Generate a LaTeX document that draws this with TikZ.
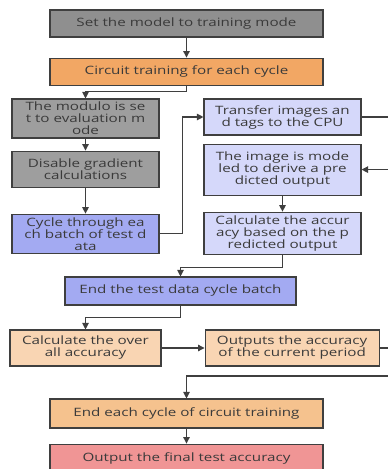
\documentclass[tikz,border=0pt]{standalone}
\usepackage{fontspec}
\setmainfont{Open Sans}[FakeStretch=1.32]
\usepackage{tikz}
\usetikzlibrary{arrows.meta,positioning}
\definecolor{linegray}{HTML}{3F3F3F}
\definecolor{textgray}{HTML}{3A3A3A}
\definecolor{darkgrayfill}{HTML}{8F8F8F}
\definecolor{grayfill}{HTML}{9E9E9E}
\definecolor{orangefill}{HTML}{F2A764}
\definecolor{lightorange}{HTML}{F5C28E}
\definecolor{peachfill}{HTML}{F9D5B3}
\definecolor{bluefill}{HTML}{A3AAF2}
\definecolor{lightblue}{HTML}{D5D8FA}
\definecolor{pinkfill}{HTML}{F09595}

\begin{document}
\begin{tikzpicture}[x=1pt, y=1pt,
		box/.style={draw=linegray, line width=1.1pt, inner sep=0pt, align=center, text=textgray,
			font=\fontsize{11.5}{12}\selectfont},
		wide/.style={box, minimum width=273pt, minimum height=27pt},
		narrow/.style={box, minimum width=147pt},
		side/.style={box, minimum width=157pt},
		link/.style={draw=linegray, line width=1.1pt, -{Triangle[length=6.5pt, width=6.5pt]}},
		every edge/.style={link}]
		\clip (0,0) rectangle (388,-469);
		\useasboundingbox (0,0) rectangle (388,-469);
		% Nodes
		\node[wide, fill=darkgrayfill] (trainmode) at (186.5,-23.5) {Set the model to training mode};
		\node[wide, fill=orangefill] (cycle) [below=20pt of trainmode] {Circuit training for each cycle};
		\node[narrow, fill=grayfill, minimum height=39pt] (evalmode) at (85.5,-118.5)
			{The modulo is se\\t to evaluation m\\ode};
		\node[narrow, fill=grayfill, minimum height=36pt] (nograd) [below=12pt of evalmode]
			{Disable gradient\\calculations};
		\node[narrow, fill=bluefill, minimum height=39pt] (batchloop) [below=26pt of nograd]
			{Cycle through ea\\ch batch of test d\\ata};
		\node[side, fill=lightblue, minimum height=36pt] (tocpu) at (282.5,-117)
			{Transfer images an\\d tags to the CPU};
		\node[side, fill=lightblue, minimum height=51pt] (predict) [below=8pt of tocpu]
			{The image is mode\\led to derive a pre\\dicted output};
		\node[side, fill=lightblue, minimum height=42pt] (batchacc) [below=16pt of predict]
			{Calculate the accur\\acy based on the p\\redicted output};
		\node[box, fill=bluefill, minimum width=231pt, minimum height=28pt] (endbatch) at (180.5,-291)
			{End the test data cycle batch};
		\node[box, fill=peachfill, minimum width=151pt, minimum height=36pt] (overall) at (85.5,-348)
			{Calculate the over\\all accuracy};
		\node[box, fill=peachfill, minimum width=174pt, minimum height=36pt] (epochacc) [right=43pt of overall]
			{Outputs the accuracy\\of the current period};
		\node[wide, fill=lightorange, minimum height=29pt] (endcycle) at (186.5,-413.5)
			{End each cycle of circuit training};
		\node[wide, fill=pinkfill, minimum height=29pt] (final) [below=15pt of endcycle]
			{Output the final test accuracy};
		% Edges
		\draw (trainmode) edge (cycle);
		\draw[link] (cycle.south) -- ++(0,-6) -| (evalmode.north);
		\draw (evalmode) edge (nograd);
		\draw (nograd) edge (batchloop);
		\draw[link] (batchloop.east) -- ++(23,0) |- (tocpu.west);
		\draw[link] (tocpu.east) -- ++(40,0) |- (predict.east);
		\draw (predict) edge (batchacc);
		\draw[link] (batchacc.south) -- ++(0,-13) -| (endbatch.north);
		\draw[link] (endbatch.south) -- ++(0,-12) -| (overall.north);
		\draw (overall) edge (epochacc);
		\draw[link] (epochacc.east) -- ++(20,0) -- ++(0,-28) -| (endcycle.north);
		\draw (endcycle) edge (final);
	\end{tikzpicture}
\end{document}
